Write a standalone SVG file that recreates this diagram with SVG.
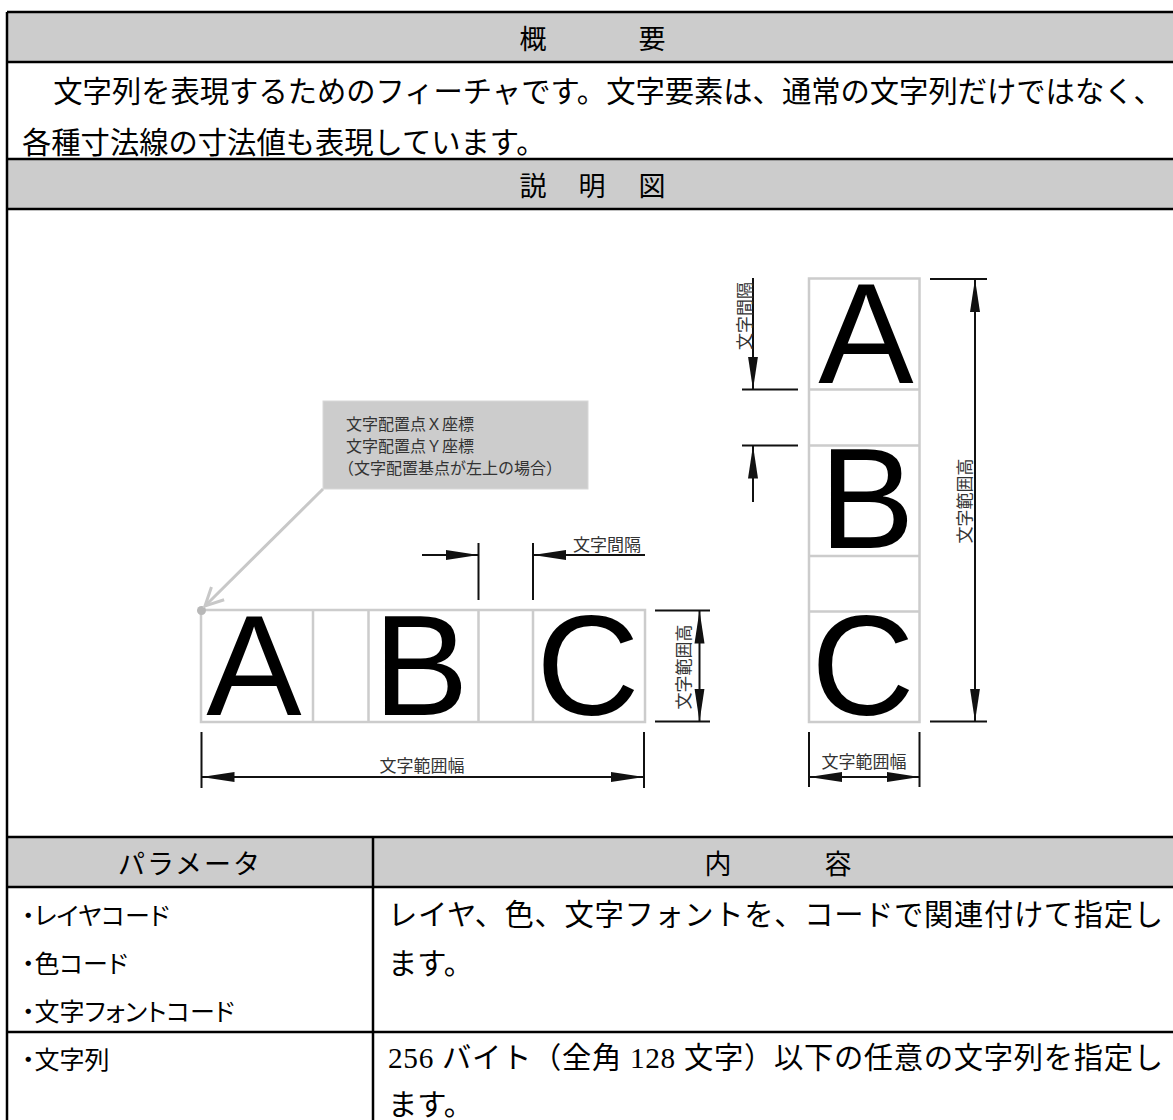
<svg xmlns="http://www.w3.org/2000/svg" width="1173" height="1120" viewBox="0 0 1173 1120">
<style>
.tbl{font-family:"Liberation Serif","Noto Sans CJK JP",serif;fill:#000;font-size:29.3px}
.hdr{font-family:"Noto Sans CJK JP",sans-serif;fill:#000;font-size:27px}
.p1{font-family:"Noto Sans CJK JP",sans-serif;fill:#000;font-size:25px;font-feature-settings:"palt"}
.lbl{font-family:"Noto Sans CJK JP",sans-serif;fill:#333;font-size:17px}
.cl{font-family:"Noto Sans CJK JP",sans-serif;fill:#333;font-size:16px}
.big{font-family:"Liberation Sans",Arial,sans-serif;fill:#000;font-size:143px}
.grid{stroke:#000;stroke-width:2.5;fill:none}
.gray{fill:#cccccc}
.cell{stroke:#cccccc;stroke-width:2.5;fill:none}
.dim{stroke:#111;stroke-width:2;fill:none}
.arr{stroke:#111;stroke-width:2;fill:none;marker-end:url(#ah)}
.arr2{stroke:#111;stroke-width:2;fill:none;marker-start:url(#ah);marker-end:url(#ah)}
</style>
<defs>
<marker id="ah" markerUnits="userSpaceOnUse" markerWidth="34" markerHeight="11" refX="33" refY="5.5" orient="auto-start-reverse">
<path d="M0,0.5 L33,5.5 L0,10.5 z" fill="#111"/>
</marker>
<marker id="lead" markerUnits="userSpaceOnUse" markerWidth="24" markerHeight="24" refX="20" refY="12" orient="auto">
<path d="M2,3 L20,12 L2,21" fill="none" stroke="#c8c8c8" stroke-width="3"/>
</marker>
</defs>
<rect width="1173" height="1120" fill="#fff"/>

<g id="table">
<rect class="gray" x="7" y="12" width="1166" height="50"/>
<rect class="gray" x="7" y="159" width="1166" height="50"/>
<rect class="gray" x="7" y="837" width="1166" height="50"/>
<path class="grid" d="M7,12H1173M7,62H1173M7,159H1173M7,209H1173M7,837H1173M7,887H1173M7,1032H1173M7,12V1120M373,837V1120"/>
<g id="overview">
<text class="hdr" x="533" y="37" text-anchor="middle" dominant-baseline="central">概</text>
<text class="hdr" x="652" y="37" text-anchor="middle" dominant-baseline="central">要</text>
<text class="tbl" x="24" y="92" dominant-baseline="central">　文字列を表現するためのフィーチャです。文字要素は、通常の文字列だけではなく、</text>
<text class="tbl" x="22" y="143" dominant-baseline="central">各種寸法線の寸法値も表現しています。</text>
</g>
<g id="figure-header">
<text class="hdr" x="533" y="184" text-anchor="middle" dominant-baseline="central">説</text>
<text class="hdr" x="592" y="184" text-anchor="middle" dominant-baseline="central">明</text>
<text class="hdr" x="652" y="184" text-anchor="middle" dominant-baseline="central">図</text>
</g>
<g id="param-header">
<text class="hdr" x="190" y="862" text-anchor="middle" dominant-baseline="central" letter-spacing="2">パラメータ</text>
<text class="hdr" x="718" y="862" text-anchor="middle" dominant-baseline="central">内</text>
<text class="hdr" x="838" y="862" text-anchor="middle" dominant-baseline="central">容</text>
</g>
<g id="row-codes">
<text class="p1" x="22" y="914" dominant-baseline="central">・レイヤコード</text>
<text class="p1" x="22" y="962" dominant-baseline="central">・色コード</text>
<text class="p1" x="22" y="1010" dominant-baseline="central">・文字フォントコード</text>
<text class="tbl" x="388" y="915" dominant-baseline="central" textLength="775" lengthAdjust="spacing">レイヤ、色、文字フォントを、コードで関連付けて指定し</text>
<text class="tbl" x="388" y="964" dominant-baseline="central">ます。</text>
</g>
<g id="row-string">
<text class="p1" x="22" y="1058" dominant-baseline="central">・文字列</text>
<text class="tbl" x="388" y="1058" dominant-baseline="central" textLength="775" lengthAdjust="spacing">256 バイト（全角 128 文字）以下の任意の文字列を指定し</text>
<text class="tbl" x="388" y="1105" dominant-baseline="central">ます。</text>
</g>
</g>

<g id="callout">
<rect x="323" y="401" width="265" height="88" fill="#cccccc" stroke="#d8d8d8" stroke-width="1"/>
<text class="cl" x="346" y="423" dominant-baseline="central">文字配置点Ｘ座標</text>
<text class="cl" x="346" y="445" dominant-baseline="central">文字配置点Ｙ座標</text>
<text class="cl" x="338" y="467" dominant-baseline="central">（文字配置基点が左上の場合）</text>
</g>

<g id="row-abc">
<rect class="cell" x="201" y="610" width="444" height="112"/>
<path class="cell" d="M313,610V722M368.5,610V722M478.5,610V722M533,610V722"/>
<text class="big" x="254" y="715" text-anchor="middle">A</text>
<text class="big" x="421" y="715" text-anchor="middle">B</text>
<text class="big" x="588" y="715" text-anchor="middle">C</text>
<circle cx="201.5" cy="610.5" r="4.5" fill="#b8b8b8"/>
</g>

<g id="column-abc">
<rect class="cell" x="809" y="278.5" width="110.5" height="443.5"/>
<path class="cell" d="M809,389.5H919.5M809,445.5H919.5M809,556H919.5M809,611.5H919.5"/>
<text class="big" x="866" y="383" text-anchor="middle">A</text>
<text class="big" x="867" y="548" text-anchor="middle">B</text>
<text class="big" x="863" y="715" text-anchor="middle">C</text>
</g>

<g id="connectors">
<line x1="323" y1="489" x2="205" y2="606" stroke="#c8c8c8" stroke-width="3" marker-end="url(#lead)"/>
<path class="dim" d="M478.5,543V600M533,543V600"/>
<line class="arr" x1="422" y1="555" x2="478.5" y2="555"/>
<line class="arr" x1="645" y1="555" x2="533" y2="555"/>
<text class="lbl" x="607" y="543" text-anchor="middle" dominant-baseline="central">文字間隔</text>
<path class="dim" d="M201.5,732V788M644,732V788"/>
<line class="arr2" x1="201.5" y1="777" x2="644" y2="777"/>
<text class="lbl" x="422" y="764" text-anchor="middle" dominant-baseline="central">文字範囲幅</text>
<path class="dim" d="M655,610.5H710M655,721.5H710"/>
<line class="arr2" x1="699.5" y1="610.5" x2="699.5" y2="721.5"/>
<text class="lbl" x="682" y="667" text-anchor="middle" dominant-baseline="central" transform="rotate(-90 682 667)">文字範囲高</text>
<path class="dim" d="M742,389.5H798M742,445.5H798"/>
<line class="arr" x1="753" y1="278" x2="753" y2="389.5"/>
<line class="arr" x1="753" y1="502" x2="753" y2="445.5"/>
<text class="lbl" x="743" y="316" text-anchor="middle" dominant-baseline="central" transform="rotate(-90 743 316)">文字間隔</text>
<path class="dim" d="M930,279H987M930,721.5H987"/>
<line class="arr2" x1="975" y1="279" x2="975" y2="721.5"/>
<text class="lbl" x="963" y="501" text-anchor="middle" dominant-baseline="central" transform="rotate(-90 963 501)">文字範囲高</text>
<path class="dim" d="M809,732V787M919.5,732V787"/>
<line class="arr2" x1="809" y1="777" x2="919.5" y2="777"/>
<text class="lbl" x="864" y="760" text-anchor="middle" dominant-baseline="central">文字範囲幅</text>
</g>
</svg>
